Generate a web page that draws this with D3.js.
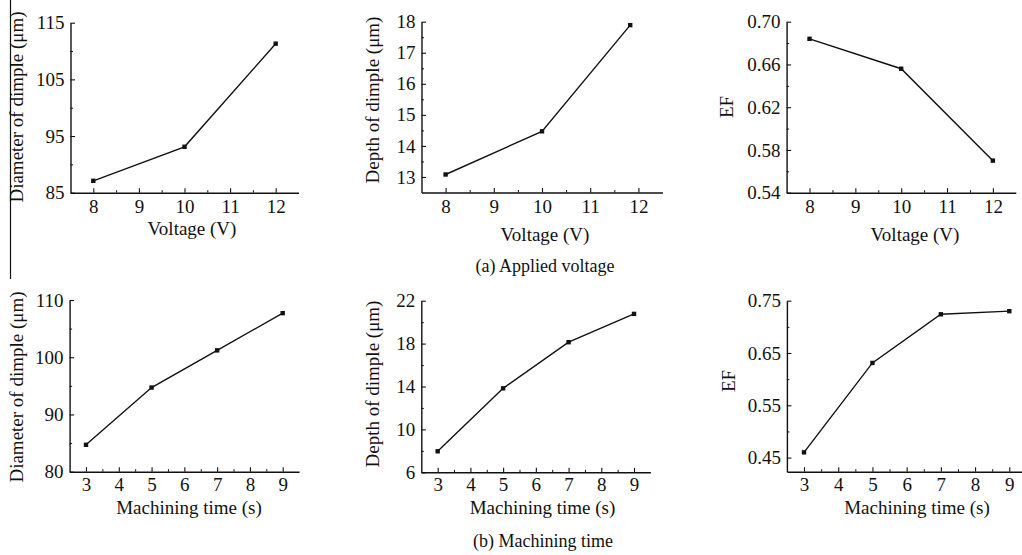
<!DOCTYPE html>
<html>
<head>
<meta charset="utf-8">
<script src="https://cdn.jsdelivr.net/npm/d3@7"></script>
<style>
  html, body { margin: 0; padding: 0; background: #fff; }
  svg { display: block; }
  text { font-family: "Liberation Serif", "Times New Roman", serif; fill: #111; }
</style>
</head>
<body>
<svg id="chart" width="1022" height="555"></svg>
<script>
// ---- data ----
const voltage = [8, 10, 12];
const voltageDepth = [8, 10, 11.83];
const diameterByVoltage = [87.1, 93.1, 111.3];
const depthByVoltage = [13.08, 14.47, 17.89];
const efByVoltage = [0.684, 0.656, 0.570];

const machiningTime = [3, 5, 7, 9];
const diameterByTime = [84.7, 94.7, 101.2, 107.7];
const depthByTime = [7.96, 13.83, 18.13, 20.77];
const efByTime = [0.460, 0.631, 0.724, 0.730];

// ---- tick labels ----
const voltageTicks = [8, 9, 10, 11, 12];
const timeTicks = [3, 4, 5, 6, 7, 8, 9];
const diameterVTicks = [85, 95, 105, 115];
const depthVTicks = [13, 14, 15, 16, 17, 18];
const efVTicks = [0.54, 0.58, 0.62, 0.66, 0.70];
const diameterTTicks = [80, 90, 100, 110];
const depthTTicks = [6, 10, 14, 18, 22];
const efTTicks = [0.45, 0.55, 0.65, 0.75];

const xTitleV = "Voltage (V)";
const xTitleT = "Machining time (s)";
const yTitleDia = "Diameter of dimple (\u03bcm)";
const yTitleDep = "Depth of dimple (\u03bcm)";
const yTitleEF = "EF";
const captionA = "(a) Applied voltage";
const captionB = "(b) Machining time";

const svg = d3.select("#chart");

const panels = [
  { xs: voltage, ys: diameterByVoltage, xDom: [7.5, 12.5], yDom: [85, 115], xr: [70.5, 298.5], yr: [192.7, 22.7],
    xt: voltageTicks, yt: diameterVTicks, yFmt: d3.format("d"), xTitle: xTitleV, yTitle: yTitleDia,
    xTitlePos: [192, 235], yTitlePos: [23, 107], pad: 7 },
  { xs: voltageDepth, ys: depthByVoltage, xDom: [7.5, 12.5], yDom: [12.5, 18], xr: [421.5, 662.5], yr: [192.5, 21.7],
    xt: voltageTicks, yt: depthVTicks, yFmt: d3.format("d"), xTitle: xTitleV, yTitle: yTitleDep,
    xTitlePos: [545, 241], yTitlePos: [378.5, 100], pad: 7 },
  { xs: voltage, ys: efByVoltage, xDom: [7.5, 12.5], yDom: [0.54, 0.70], xr: [786.6, 1015.8], yr: [192.7, 21.7],
    xt: voltageTicks, yt: efVTicks, yFmt: d3.format(".2f"), xTitle: xTitleV, yTitle: yTitleEF,
    xTitlePos: [915, 241], yTitlePos: [733, 107], pad: 7 },
  { xs: machiningTime, ys: diameterByTime, xDom: [2.5, 9.5], yDom: [80, 110], xr: [69.6, 299.1], yr: [471.7, 300],
    xt: timeTicks, yt: diameterTTicks, yFmt: d3.format("d"), xTitle: xTitleT, yTitle: yTitleDia,
    xTitlePos: [189, 514], yTitlePos: [23, 387], pad: 6 },
  { xs: machiningTime, ys: depthByTime, xDom: [2.5, 9.5], yDom: [6, 22], xr: [421.3, 650.4], yr: [472.3, 300.7],
    xt: timeTicks, yt: depthTTicks, yFmt: d3.format("d"), xTitle: xTitleT, yTitle: yTitleDep,
    xTitlePos: [542.5, 514], yTitlePos: [378.5, 384], pad: 5 },
  { xs: machiningTime, ys: efByTime, xDom: [2.5, 9.5], yDom: [0.423, 0.75], xr: [786.9, 1026.4], yr: [471.7, 300.7],
    xt: timeTicks, yt: efTTicks, yFmt: d3.format(".2f"), xTitle: xTitleT, yTitle: yTitleEF,
    xTitlePos: [917, 514], yTitlePos: [735, 381], pad: 6 }
];

function mids(arr) {
  const out = [];
  const step = arr[1] - arr[0];
  out.push(arr[0] - step / 2);
  for (let i = 0; i < arr.length - 1; i++) out.push((arr[i] + arr[i + 1]) / 2);
  out.push(arr[arr.length - 1] + step / 2);
  return out;
}

panels.forEach(p => {
  const x = d3.scaleLinear().domain(p.xDom).range(p.xr);
  const y = d3.scaleLinear().domain(p.yDom).range(p.yr);
  const g = svg.append("g");
  const yBase = p.yr[0], xBase = p.xr[0];

  // minor ticks
  const xMinor = mids(p.xt).filter(v => v > p.xDom[0] + 1e-6 && v < p.xDom[1] - 1e-6);
  const yMinor = mids(p.yt).filter(v => v > p.yDom[0] + 1e-6 && v < p.yDom[1] - 1e-6);
  g.append("g").attr("transform", `translate(0,${yBase})`)
    .call(d3.axisBottom(x).tickValues(xMinor).tickSize(-2.5).tickFormat(""))
    .call(s => s.select(".domain").remove());
  g.append("g").attr("transform", `translate(${xBase},0)`)
    .call(d3.axisLeft(y).tickValues(yMinor).tickSize(-2.5).tickFormat(""))
    .call(s => s.select(".domain").remove());

  // major axes
  const xa = g.append("g").attr("transform", `translate(0,${yBase})`)
    .call(d3.axisBottom(x).tickValues(p.xt).tickSizeInner(-4.5).tickSizeOuter(0).tickPadding(p.pad).tickFormat(d3.format("d")));
  const ya = g.append("g").attr("transform", `translate(${xBase},0)`)
    .call(d3.axisLeft(y).tickValues(p.yt).tickSizeInner(-4.5).tickSizeOuter(0).tickPadding(6).tickFormat(p.yFmt));
  [xa, ya].forEach(a => {
    a.selectAll("text").attr("font-size", 19).attr("font-family", "Liberation Serif").attr("fill", "#111");
    a.select(".domain").attr("stroke", "#111").attr("stroke-width", 1.4);
    a.selectAll(".tick line").attr("stroke", "#111").attr("stroke-width", 1.1);
  });
  g.selectAll(".tick line").attr("stroke", "#111");

  // line + markers
  const pts = p.xs.map((v, i) => [v, p.ys[i]]);
  g.append("path").datum(pts)
    .attr("d", d3.line().x(d => x(d[0])).y(d => y(d[1])))
    .attr("fill", "none").attr("stroke", "#111").attr("stroke-width", 1.4);
  g.selectAll("rect.m").data(pts).enter().append("rect").attr("class", "m")
    .attr("x", d => x(d[0]) - 2.2).attr("y", d => y(d[1]) - 2.2)
    .attr("width", 4.4).attr("height", 4.4).attr("fill", "#111");

  // titles
  g.append("text").attr("x", p.xTitlePos[0]).attr("y", p.xTitlePos[1])
    .attr("text-anchor", "middle").attr("font-size", 19).text(p.xTitle);
  g.append("text").attr("transform", `translate(${p.yTitlePos[0]},${p.yTitlePos[1]}) rotate(-90)`)
    .attr("text-anchor", "middle").attr("font-size", 19).text(p.yTitle);
});

// captions
svg.append("text").attr("x", 545).attr("y", 272).attr("text-anchor", "middle").attr("font-size", 18).text(captionA);
svg.append("text").attr("x", 543).attr("y", 547).attr("text-anchor", "middle").attr("font-size", 18).text(captionB);

// left separator line
svg.append("line").attr("x1", 10.5).attr("x2", 10.5).attr("y1", 0).attr("y2", 279)
  .attr("stroke", "#111").attr("stroke-width", 1.2);
</script>
</body>
</html>
